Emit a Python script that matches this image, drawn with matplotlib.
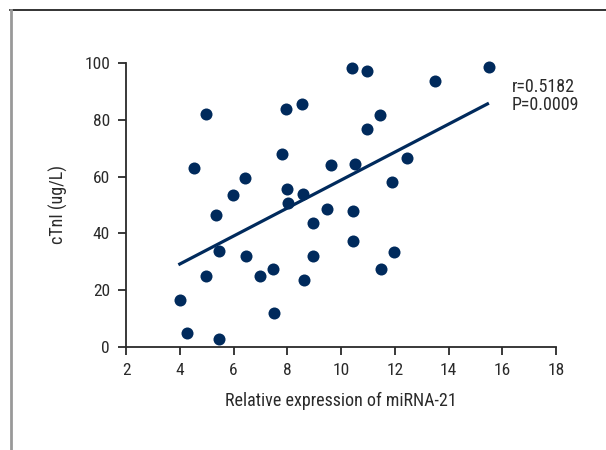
import numpy as np
import matplotlib
matplotlib.use("Agg")
import matplotlib.pyplot as plt
from matplotlib import font_manager
from matplotlib.lines import Line2D

# pick a narrow font if one is installed
names = set(f.name for f in font_manager.fontManager.ttflist)
narrow = [n for n in ['Roboto Condensed', 'Open Sans Condensed', 'Liberation Sans Narrow',
                      'Noto Sans Condensed'] if n in names]
plt.rcParams['font.family'] = narrow + ['DejaVu Sans']
plt.rcParams['font.stretch'] = 'condensed'

# data
mirna = [4.01, 4.27, 5.46, 4.96, 4.53, 4.96, 5.35, 5.46, 5.97, 6.41,
         6.48, 7.00, 7.47, 7.49, 7.80, 7.95, 7.98, 8.02, 8.54, 8.58,
         8.62, 8.97, 8.97, 9.46, 9.61, 10.39, 10.43, 10.46, 10.53, 10.95,
         10.98, 11.45, 11.48, 11.91, 11.96, 12.47, 13.51, 15.49]
ctni = [16.5, 5.0, 2.9, 82.1, 63.1, 24.9, 46.3, 33.7, 53.5, 59.5,
        32.2, 25.1, 27.3, 12.1, 68.1, 83.8, 55.6, 50.8, 85.4, 53.7,
        23.5, 43.7, 32.2, 48.6, 64.1, 98.1, 37.2, 47.8, 64.3, 97.1,
        76.7, 81.7, 27.6, 58.0, 33.3, 66.5, 93.8, 98.6]
fit_x = [4.0, 15.45]
fit_y = [29.2, 85.6]
stats_text = "r=0.5182\nP=0.0009"
xticks = [2, 4, 6, 8, 10, 12, 14, 16, 18]
yticks = [0, 20, 40, 60, 80, 100]

navy = '#002a5c'
ink = '#2a2a2a'

fig = plt.figure(figsize=(6.06, 4.5), dpi=100)
ax = fig.add_axes([0.208, 0.229, 0.7095, 0.631])

ax.scatter(mirna, ctni, s=75, color=navy, zorder=3, clip_on=False, linewidths=0)
ax.plot(fit_x, fit_y, color=navy, lw=2.3, zorder=2)

ax.set_xlim(2, 18)
ax.set_ylim(0, 100)
ax.set_xticks(xticks)
ax.set_yticks(yticks)
for s in ['top', 'right']:
    ax.spines[s].set_visible(False)
for s in ['left', 'bottom']:
    ax.spines[s].set_linewidth(1.3)
    ax.spines[s].set_color(ink)
ax.tick_params(direction='out', length=5.5, width=1.3, color=ink,
               labelsize=12.5, labelcolor=ink, pad=6)

ax.set_xlabel("Relative expression of miRNA-21", fontsize=13, color=ink, labelpad=10)
ax.set_ylabel("cTnI (ug/L)", fontsize=13, color=ink, labelpad=12)

ax.text(16.35, 88.5, stats_text, fontsize=13, color=ink, va='center', ha='left',
        linespacing=1.0)

# outer frame lines (top and left)
fig.add_artist(Line2D([10/606, 1], [1 - 10/450, 1 - 10/450], color='#111111', lw=1.2,
                      transform=fig.transFigure))
fig.add_artist(Line2D([11/606, 11/606], [0, 1 - 10/450], color='#999999', lw=2.0,
                      transform=fig.transFigure))

fig.savefig('out.png', dpi=100)
